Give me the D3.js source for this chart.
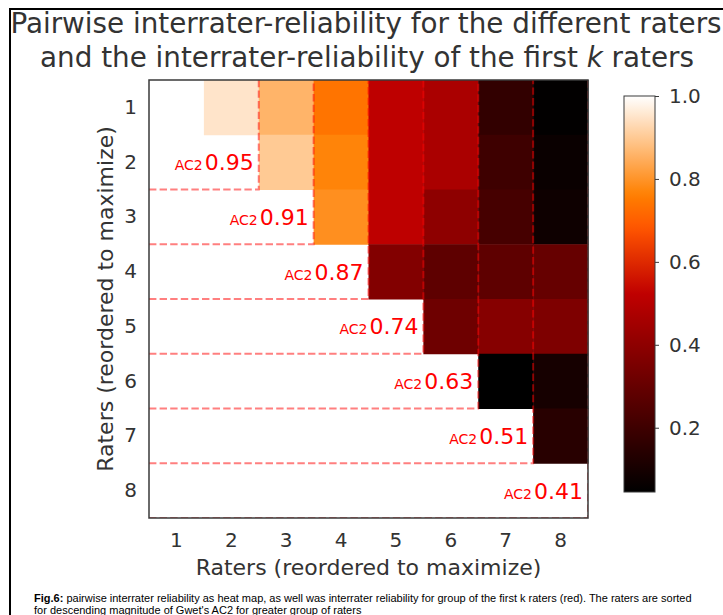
<!DOCTYPE html>
<html>
<head>
<meta charset="utf-8">
<script src="https://cdn.jsdelivr.net/npm/d3@7"></script>
<style>
body { margin: 0; background: #fff; }
svg { display: block; font-family: "DejaVu Sans", sans-serif; }
</style>
</head>
<body>
<script>
// Raters in the (reordered) order shown on both axes
var raters = [1, 2, 3, 4, 5, 6, 7, 8];

// Pairwise AC2 between raters (upper triangle only, null = not drawn)
var row1 = [null, 0.95, 0.86, 0.74, 0.52, 0.47, 0.17, 0.05];
var row2 = [null, null, 0.90, 0.77, 0.52, 0.47, 0.20, 0.07];
var row3 = [null, null, null, 0.79, 0.52, 0.40, 0.22, 0.08];
var row4 = [null, null, null, null, 0.37, 0.28, 0.28, 0.30];
var row5 = [null, null, null, null, null, 0.32, 0.38, 0.36];
var row6 = [null, null, null, null, null, null, 0.045, 0.10];
var row7 = [null, null, null, null, null, null, null, 0.145];
var row8 = [null, null, null, null, null, null, null, null];
var pairwise = [row1, row2, row3, row4, row5, row6, row7, row8];

// AC2 of the group made of the first k raters
var groupSizes = [2, 3, 4, 5, 6, 7, 8];
var groupAC2 = ["0.95", "0.91", "0.87", "0.74", "0.63", "0.51", "0.41"];

// colour bar
var colorTicks = [0.2, 0.4, 0.6, 0.8, 1.0];
var colorMin = 0.045, colorMax = 1.0;

var W = 723, H = 615;
var margin = { top: 80, left: 149 },
    width = 439, height = 438;

var svg = d3.select("body").append("svg")
    .attr("width", W)
    .attr("height", H);

// matplotlib gist_heat
function gistHeat(t) {
    t = Math.max(0, Math.min(1, t));
    var r = Math.min(1, 1.5 * t),
        g = Math.max(0, Math.min(1, 2 * t - 1)),
        b = Math.max(0, Math.min(1, 4 * t - 3));
    return d3.rgb(r * 255, g * 255, b * 255).toString();
}
var color = d3.scaleSequential(gistHeat).domain([colorMin, colorMax]);

// outer page border (left + top)
svg.append("path")
    .attr("d", "M10,615V9H723")
    .attr("fill", "none")
    .attr("stroke", "#000")
    .attr("stroke-width", 2);

// title
var title = svg.append("text")
    .attr("text-anchor", "middle")
    .attr("fill", "#333")
    .style("font-size", "27.8px");
title.append("tspan").attr("x", 366).attr("y", 33)
    .text("Pairwise interrater-reliability for the different raters");
var t2 = title.append("tspan").attr("x", 367).attr("y", 67);
t2.append("tspan").text("and the interrater-reliability of the first ");
t2.append("tspan").style("font-style", "italic").text("k");
t2.append("tspan").text(" raters");

var g = svg.append("g")
    .attr("transform", "translate(" + margin.left + "," + margin.top + ")");

g.append("clipPath").attr("id", "plot-clip")
    .append("rect").attr("width", width).attr("height", height);

var x = d3.scaleBand().domain(raters).range([0, width]);
var y = d3.scaleBand().domain(raters).range([0, height]);
var bw = x.bandwidth(), bh = y.bandwidth();

// heat map cells
var cells = [];
pairwise.forEach(function(row, i) {
    row.forEach(function(v, j) {
        if (v !== null) cells.push({ r: raters[i], c: raters[j], v: v });
    });
});

g.selectAll(".cell")
    .data(cells)
    .enter().append("rect")
    .attr("class", "cell")
    .attr("x", function(d) { return x(d.c); })
    .attr("y", function(d) { return y(d.r); })
    .attr("width", bw + 0.5)
    .attr("height", bh + 0.5)
    .attr("fill", function(d) { return color(d.v); });

// dashed group boundaries
g.append("g").attr("clip-path", "url(#plot-clip)")
    .selectAll(".group-line")
    .data(groupSizes)
    .enter().append("path")
    .attr("class", "group-line")
    .attr("d", function(k) {
        var yy = y(k) + bh, xx = x(k) + bw;
        return "M0," + yy + "H" + xx + "V0";
    })
    .attr("fill", "none")
    .attr("stroke", "rgba(255,0,0,0.5)")
    .attr("stroke-width", 2)
    .attr("stroke-dasharray", "7.4,3.2");

// group AC2 labels
var labels = g.selectAll(".group-label")
    .data(groupSizes)
    .enter().append("text")
    .attr("class", "group-label")
    .attr("x", function(k) { return x(k) + bw - 5; })
    .attr("y", function(k) { return y(k) + bh / 2 + 8; })
    .attr("text-anchor", "end")
    .attr("fill", "red");
labels.append("tspan").style("font-size", "14px").text("AC2");
labels.append("tspan").attr("dx", 2).style("font-size", "22px")
    .text(function(k, i) { return groupAC2[i]; });

// frame
g.append("rect")
    .attr("width", width)
    .attr("height", height)
    .attr("fill", "none")
    .attr("stroke", "#3a3a3a")
    .attr("stroke-width", 1.5);

// axes
var xAxis = g.append("g")
    .attr("transform", "translate(0," + height + ")")
    .call(d3.axisBottom(x).tickSize(0).tickPadding(15));
var yAxis = g.append("g")
    .call(d3.axisLeft(y).tickSize(0).tickPadding(12));
[xAxis, yAxis].forEach(function(a) {
    a.select(".domain").remove();
    a.selectAll("text").attr("fill", "#333").style("font-size", "20px")
        .style("font-family", "DejaVu Sans, sans-serif");
});

svg.append("text")
    .attr("x", margin.left + width / 2)
    .attr("y", 575)
    .attr("text-anchor", "middle")
    .attr("fill", "#333")
    .style("font-size", "22px")
    .text("Raters (reordered to maximize)");

svg.append("text")
    .attr("transform", "translate(113," + (margin.top + height / 2) + ") rotate(-90)")
    .attr("text-anchor", "middle")
    .attr("fill", "#333")
    .style("font-size", "22px")
    .text("Raters (reordered to maximize)");

// colour bar
var cb = { x: 624, y: 96, w: 31, h: 396 };
var grad = svg.append("defs").append("linearGradient")
    .attr("id", "cbar")
    .attr("x1", 0).attr("y1", 1).attr("x2", 0).attr("y2", 0);
grad.selectAll("stop")
    .data(d3.range(0, 1.0001, 0.02))
    .enter().append("stop")
    .attr("offset", function(t) { return t; })
    .attr("stop-color", function(t) { return gistHeat(t); });

svg.append("rect")
    .attr("x", cb.x).attr("y", cb.y)
    .attr("width", cb.w).attr("height", cb.h)
    .attr("fill", "url(#cbar)")
    .attr("stroke", "#3a3a3a")
    .attr("stroke-width", 1);

var cScale = d3.scaleLinear().domain([colorMin, colorMax]).range([cb.y + cb.h, cb.y]);
var cAxis = svg.append("g")
    .attr("transform", "translate(" + (cb.x + cb.w) + ",0)")
    .call(d3.axisRight(cScale).tickValues(colorTicks).tickFormat(d3.format(".1f"))
        .tickSize(4).tickPadding(10));
cAxis.select(".domain").remove();
cAxis.selectAll("line").attr("stroke", "#3a3a3a");
cAxis.selectAll("text").attr("fill", "#333").style("font-size", "20px")
    .style("font-family", "DejaVu Sans, sans-serif");

// caption
var cap1 = svg.append("text")
    .attr("x", 34).attr("y", 601.6)
    .attr("fill", "#000")
    .style("font-family", "Liberation Sans, Arial, sans-serif")
    .style("font-size", "11px");
cap1.append("tspan").style("font-weight", "bold").text("Fig.6:");
cap1.append("tspan").text(" pairwise interrater reliability as heat map, as well was interrater reliability for group of the first k raters (red). The raters are sorted");
svg.append("text")
    .attr("x", 34).attr("y", 614)
    .attr("fill", "#000")
    .style("font-family", "Liberation Sans, Arial, sans-serif")
    .style("font-size", "11px")
    .text("for descending magnitude of Gwet's AC2 for greater group of raters");
</script>
</body>
</html>
